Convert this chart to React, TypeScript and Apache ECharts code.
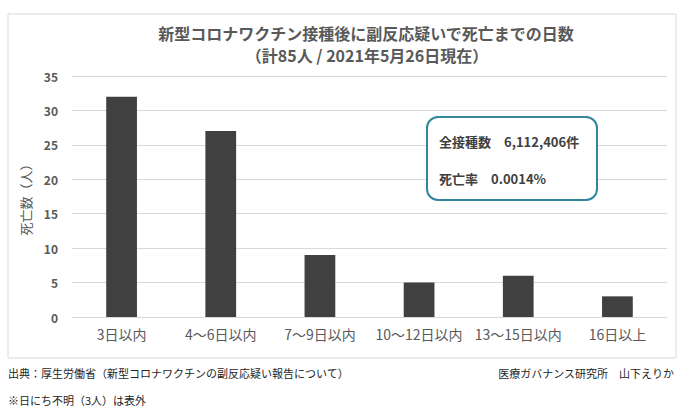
import React, { useEffect, useRef } from "react";
import * as echarts from "echarts";

const categories = ["3日以内", "4～6日以内", "7～9日以内", "10～12日以内", "13～15日以内", "16日以上"];
const deaths = [32, 27, 9, 5, 6, 3];
const titleLines = ["新型コロナワクチン接種後に副反応疑いで死亡までの日数", "（計85人 / 2021年5月26日現在）"];
const boxLines = ["全接種数　6,112,406件", "死亡率　0.0014%"];
const footerLeft = "出典：厚生労働省（新型コロナワクチンの副反応疑い報告について）";
const footerRight = "医療ガバナンス研究所　山下えりか";
const footerNote = "※日にち不明（3人）は表外";
const yAxisName = "死亡数（人）";

const FONT = "'Noto Sans CJK JP', 'Noto Sans', sans-serif";

export default function App() {
  const ref = useRef<HTMLDivElement>(null);
  useEffect(() => {
    if (!ref.current) return;
    const chart = echarts.init(ref.current, null, { renderer: "svg" });
    chart.setOption({
      animation: false,
      backgroundColor: "#ffffff",
      textStyle: { fontFamily: FONT },
      grid: { left: 72, right: 13, top: 76, bottom: 93 },
      xAxis: {
        type: "category",
        data: categories,
        axisLine: { show: false },
        axisTick: { show: false },
        axisLabel: { color: "#595959", fontSize: 14, margin: 10, interval: 0, fontFamily: FONT },
      },
      yAxis: {
        type: "value",
        min: 0,
        max: 35,
        interval: 5,
        name: yAxisName,
        nameLocation: "middle",
        nameGap: 40,
        nameRotate: 90,
        nameTextStyle: { color: "#595959", fontSize: 13, fontFamily: FONT },
        axisLabel: { color: "#595959", fontSize: 12, margin: 14, fontWeight: "bold", fontFamily: FONT },
        splitLine: { lineStyle: { color: "#d9d9d9", width: 1 } },
        axisLine: { show: false },
        axisTick: { show: false },
      },
      series: [
        {
          type: "bar",
          data: deaths,
          barWidth: "31%",
          itemStyle: { color: "#404040" },
        },
      ],
      graphic: [
        {
          type: "rect",
          shape: { x: 8, y: 14, width: 668, height: 344 },
          style: { fill: "none", stroke: "#d9d9d9", lineWidth: 1 },
          silent: true,
          z: -1,
        },
        {
          type: "text",
          x: 366,
          y: 33,
          style: {
            text: titleLines[0],
            align: "center",
            verticalAlign: "middle",
            fill: "#595959",
            font: `bold 16px ${FONT}`,
          },
        },
        {
          type: "text",
          x: 367,
          y: 55,
          style: {
            text: titleLines[1],
            align: "center",
            verticalAlign: "middle",
            fill: "#595959",
            font: `bold 16px ${FONT}`,
          },
        },
        {
          type: "rect",
          shape: { x: 427, y: 117, width: 170, height: 83, r: 11 },
          style: { fill: "#ffffff", stroke: "#31859c", lineWidth: 2 },
          z: 10,
        },
        {
          type: "text",
          x: 439,
          y: 141,
          z: 11,
          style: {
            text: boxLines[0],
            verticalAlign: "middle",
            fill: "#404040",
            font: `bold 13px ${FONT}`,
          },
        },
        {
          type: "text",
          x: 439,
          y: 178,
          z: 11,
          style: {
            text: boxLines[1],
            verticalAlign: "middle",
            fill: "#404040",
            font: `bold 13px ${FONT}`,
          },
        },
        {
          type: "text",
          x: 8,
          y: 373,
          style: { text: footerLeft, verticalAlign: "middle", fill: "#262626", font: `11px ${FONT}` },
        },
        {
          type: "text",
          x: 674,
          y: 373,
          style: { text: footerRight, align: "right", verticalAlign: "middle", fill: "#262626", font: `11px ${FONT}` },
        },
        {
          type: "text",
          x: 8,
          y: 400,
          style: { text: footerNote, verticalAlign: "middle", fill: "#262626", font: `11px ${FONT}` },
        },
      ],
    });
    return () => chart.dispose();
  }, []);
  return (
    <div
      ref={ref}
      style={{ position: "absolute", left: 0, top: 0, width: 680, height: 410 }}
    />
  );
}
